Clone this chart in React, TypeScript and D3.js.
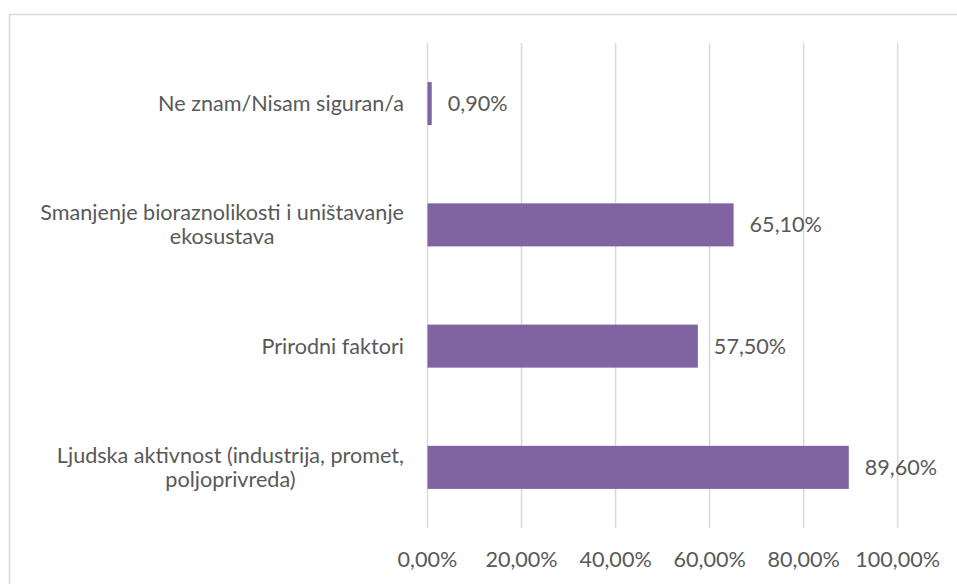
import * as d3 from 'd3';
import { useEffect, useRef } from 'react';

const categories = [
  ['Ne znam/Nisam siguran/a'],
  ['Smanjenje bioraznolikosti i uništavanje', 'ekosustava'],
  ['Prirodni faktori'],
  ['Ljudska aktivnost (industrija, promet,', 'poljoprivreda)'],
];
const values = [0.9, 65.1, 57.5, 89.6];
const ticks = [0, 20, 40, 60, 80, 100];

const fmt = (v: number) => v.toFixed(2).replace('.', ',') + '%';

const App = () => {
  const ref = useRef<SVGSVGElement>(null);

  useEffect(() => {
    const svg = d3.select(ref.current);
    svg.selectAll('*').remove();

    const font = 'Lato, sans-serif';
    const fontSize = 21.6;
    const textColor = '#595959';
    const left = 427.5,
      right = 897.7,
      top = 43,
      bottom = 528;

    // chart border
    svg
      .append('rect')
      .attr('x', 9.5)
      .attr('y', 14.5)
      .attr('width', 1000)
      .attr('height', 1000)
      .attr('fill', 'white')
      .attr('stroke', '#d9d9d9')
      .attr('stroke-width', 1.5);

    const x = d3.scaleLinear().domain([0, 100]).range([left, right]);
    const y = d3
      .scaleBand<number>()
      .domain(d3.range(categories.length))
      .range([top, bottom])
      .paddingInner(0.645)
      .paddingOuter(0.3225);

    // gridlines
    svg
      .append('g')
      .selectAll('line')
      .data(ticks)
      .join('line')
      .attr('x1', (d) => x(d))
      .attr('x2', (d) => x(d))
      .attr('y1', top)
      .attr('y2', bottom)
      .attr('stroke', '#d9d9d9')
      .attr('stroke-width', 1.5);

    // tick labels
    svg
      .append('g')
      .selectAll('text')
      .data(ticks)
      .join('text')
      .attr('x', (d) => x(d))
      .attr('y', 559)
      .attr('dy', '0.35em')
      .attr('text-anchor', 'middle')
      .style('font-family', font)
      .style('font-size', fontSize + 'px')
      .style('fill', textColor)
      .text((d) => fmt(d));

    // bars
    svg
      .append('g')
      .selectAll('rect')
      .data(values)
      .join('rect')
      .attr('x', x(0))
      .attr('y', (d, i) => y(i)!)
      .attr('width', (d) => x(d) - x(0))
      .attr('height', y.bandwidth())
      .attr('fill', '#8064a2');

    // value labels
    svg
      .append('g')
      .selectAll('text')
      .data(values)
      .join('text')
      .attr('x', (d) => x(d) + 16)
      .attr('y', (d, i) => y(i)! + y.bandwidth() / 2)
      .attr('dy', '0.35em')
      .style('font-family', font)
      .style('font-size', fontSize + 'px')
      .style('fill', textColor)
      .text((d) => fmt(d));

    // category labels, lines centred inside a right-aligned block
    const labelRight = 404;
    const lineH = 24;
    categories.forEach((lines, i) => {
      const g = svg.append('g');
      const cy = y(i)! + y.bandwidth() / 2;
      const texts = g
        .selectAll('text')
        .data(lines)
        .join('text')
        .attr('y', (d, j) => cy + (j - (lines.length - 1) / 2) * lineH)
        .attr('dy', '0.35em')
        .attr('text-anchor', 'middle')
        .style('font-family', font)
        .style('font-size', fontSize + 'px')
        .style('fill', textColor)
        .text((d) => d);
      let maxW = 0;
      texts.each(function () {
        maxW = Math.max(maxW, (this as SVGTextElement).getComputedTextLength());
      });
      texts.attr('x', labelRight - maxW / 2);
    });
  }, []);

  return (
    <svg
      ref={ref}
      width={957}
      height={584}
      style={{ position: 'absolute', left: 0, top: 0, display: 'block' }}
    ></svg>
  );
};

export default App;
